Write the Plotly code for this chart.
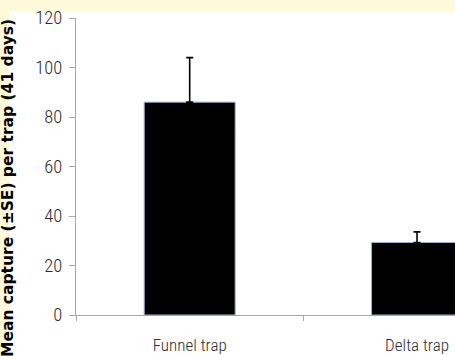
import plotly.graph_objects as go

# Mean trap capture over 41 days, with standard error
traps = ["Funnel trap", "Delta trap"]
mean_capture = [86, 29.3]
se_capture = [18, 4.3]
y_ticks = [0, 20, 40, 60, 80, 100, 120]

W, H = 455, 356
M_L, M_R, M_T, M_B = 76, 0, 18, 41
plot_w = W - M_L - M_R
plot_h = H - M_T - M_B

narrow = "Roboto Condensed"

fig = go.Figure()
fig.add_trace(go.Bar(
    x=traps,
    y=mean_capture,
    width=0.4,
    marker=dict(color="black", line=dict(color="#9DB0CF", width=1)),
    error_y=dict(type="data", array=se_capture, arrayminus=[0, 0], symmetric=False,
                 color="black", thickness=1.6, width=3.5),
    showlegend=False,
))

def px_x(p):
    return (p - M_L) / plot_w

def px_y(p):
    return (H - M_B - p) / plot_h

# cream page with a white panel
fig.add_shape(type="rect", xref="paper", yref="paper",
              x0=px_x(0), x1=px_x(W + 5), y0=px_y(-5), y1=px_y(H + 5),
              fillcolor="#FFF9DC", line_width=0, layer="below")
fig.add_shape(type="rect", xref="paper", yref="paper",
              x0=px_x(9), x1=px_x(W + 5), y0=px_y(H + 5), y1=px_y(11),
              fillcolor="white", line_width=0, layer="below")

fig.add_annotation(
    text="<b>Mean capture (±SE) per trap (41 days)</b>",
    xref="paper", yref="paper", x=px_x(8), y=px_y(188),
    xanchor="center", yanchor="middle", textangle=-90, showarrow=False,
    font=dict(family="DejaVu Sans", size=15.5, color="black"),
)

fig.update_layout(
    width=W, height=H,
    margin=dict(l=M_L, r=M_R, t=M_T, b=M_B, pad=0),
    paper_bgcolor="white",
    plot_bgcolor="rgba(0,0,0,0)",
    bargap=0.6,
    xaxis=dict(
        type="category", range=[-0.5, 1.167], showgrid=False,
        showline=True, linecolor="#A6A6A6", linewidth=1,
        ticks="outside", tickson="boundaries", ticklen=5, tickcolor="#A6A6A6",
        tickfont=dict(family=narrow, size=17, color="#2E2E2E", weight=300),
        ticklabelstandoff=15,
    ),
    yaxis=dict(
        range=[0, 120], tickvals=y_ticks, showgrid=False, zeroline=False,
        showline=True, linecolor="#A6A6A6", linewidth=1,
        ticks="outside", ticklen=6, tickcolor="#A6A6A6",
        tickfont=dict(family=narrow, size=18.5, color="#2E2E2E", weight=300),
        ticklabelstandoff=3,
    ),
)

fig.write_html("out.html")
